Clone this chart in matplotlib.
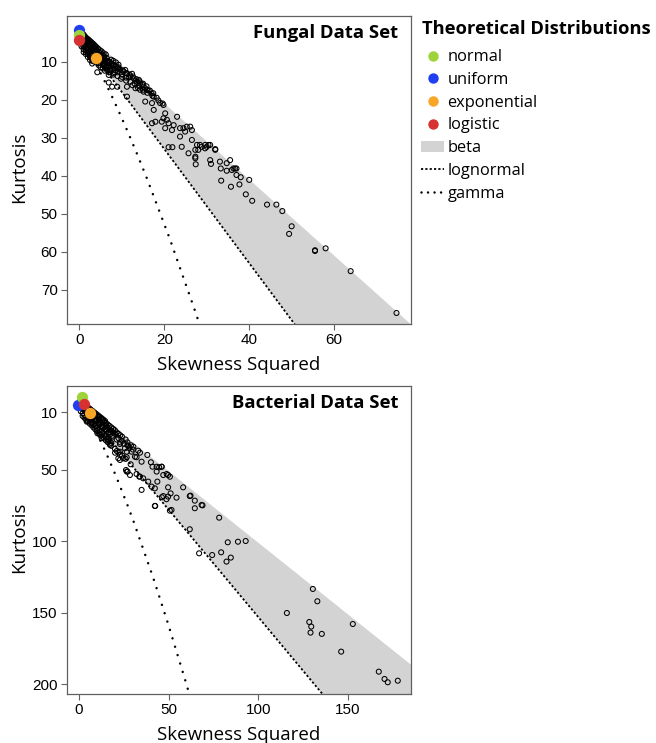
import matplotlib
matplotlib.use("Agg")
import matplotlib.pyplot as plt
from matplotlib.lines import Line2D
from matplotlib.patches import Patch

# ---- data (skewness squared, kurtosis) ----
fungal_s2 = [0.1, 0.2, 0.3, 0.4, 0.5, 0.6, 0.7, 0.8, 0.9, 1.0, 1.1, 1.2, 1.3, 1.4, 1.5, 1.6, 1.7, 1.8,
             1.9, 2.0, 2.1, 2.2, 2.3, 2.4, 2.5, 2.6, 2.7, 2.8, 2.9, 3.0, 3.1, 3.2, 3.3, 3.4, 3.5, 3.6,
             3.7, 3.8, 3.9, 4.0, 4.1, 4.3, 4.4, 4.5, 4.7, 4.8, 4.9, 5.1, 5.2, 5.4, 5.5, 5.7, 5.8, 6.0,
             6.2, 6.4, 6.6, 0.6, 1.0, 1.3, 0.3, 1.9, 2.4, 0.9,
             0.2, 0.5, 0.8, 1.1, 1.4, 1.7, 2.0, 2.3, 2.6, 2.9, 3.2, 3.5, 3.8, 4.1, 4.4,
             0.4, 0.7, 1.0, 1.5, 2.0, 2.5, 3.0, 3.5,
             0.5, 0.5, 1.0, 1.0, 1.5, 1.5, 2.0, 2.0, 2.5, 2.5, 3.0, 3.0, 5.0, 5.0, 5.5, 6.0, 6.0,
             6.5, 7.0, 7.0, 7.5, 8.0, 8.0, 4.6, 8.6, 9.2,
             5.0, 5.5, 6.0, 6.5, 7.0, 7.5, 8.0, 6.3, 7.3, 8.3, 5.6, 4.8, 7.8, 8.6, 9.4, 10.2,
             11.0, 11.8, 12.6, 13.4, 14.2, 15.0, 15.8, 16.6, 17.4, 18.2, 9.0, 10.0, 11.0, 12.0,
             13.0, 14.0, 15.0, 16.0, 17.2, 18.6, 19.6,
             5.3, 6.1, 6.9, 8.1, 8.9, 9.6, 10.4, 11.2, 12.0, 12.8, 13.6, 14.3, 15.1, 15.9,
             7.5, 8.5, 9.2, 10.0, 10.8, 11.6, 12.4, 13.2, 14.0, 14.8, 15.5, 16.3, 17.0, 7.2, 8.0,
             9.0, 6.5, 5.8, 9.8, 11.0, 12.5, 13.8,
             4.2, 6.9, 7.7, 8.9, 6.9, 11.2, 11.2, 15.5, 17.5, 17.1, 19.0, 19.8, 17.5, 20.2, 17.9,
             17.1, 23.0, 21.8, 23.7, 24.9, 26.5, 27.3, 29.6, 32.0, 21.0, 21.9, 24.1, 25.7, 27.3,
             30.8, 31.0, 13.2, 14.3, 15.1, 19.8, 20.6, 19.4, 21.0, 20.2, 22.2, 23.7, 24.5, 25.3,
             26.1, 26.5, 27.7, 28.8, 29.6, 30.0, 30.8, 28.0, 28.4, 30.4, 32.0, 33.1, 34.7, 35.5,
             36.3, 27.3, 27.4,
             33.3, 34.7, 35.9, 36.7, 37.0, 37.0, 38.0, 40.0, 33.4, 37.7, 35.7, 39.2, 40.7, 44.2,
             46.4, 47.8, 50.0, 49.4, 55.5, 55.5, 58.0, 63.9, 74.7]
fungal_k = [1.9, 2.3, 2.8, 2.1, 3.2, 2.6, 3.6, 3.0, 4.0, 2.9, 3.5, 4.3, 3.4, 3.9, 4.7, 3.8, 4.4, 5.1,
            4.0, 4.6, 5.4, 4.3, 5.0, 5.8, 4.6, 5.3, 6.1, 4.9, 5.6, 6.5, 5.2, 6.0, 6.9, 5.5, 6.3, 7.2,
            5.9, 6.7, 7.6, 6.2, 7.0, 7.9, 6.6, 7.4, 8.3, 7.0, 7.8, 8.6, 7.3, 8.2, 9.0, 7.8, 8.6, 9.4,
            8.1, 9.0, 9.8, 4.0, 4.6, 5.6, 3.6, 6.5, 7.1, 5.9,
            3.0, 3.9, 4.8, 5.3, 5.9, 6.3, 6.8, 7.4, 7.9, 8.3, 8.8, 9.1, 9.6, 10.0, 10.4,
            4.4, 5.2, 6.0, 6.6, 7.5, 8.4, 9.2, 10.0,
            5.0, 6.0, 6.8, 7.5, 7.2, 8.0, 8.0, 8.8, 8.8, 9.6, 9.8, 10.5, 10.5, 11.5, 11.8, 11.5,
            12.4, 12.2, 10.0, 12.8, 9.5, 9.8, 13.4, 11.0, 10.2, 10.8,
            9.3, 9.9, 10.5, 10.2, 11.3, 10.4, 11.8, 11.4, 12.3, 12.8, 11.0, 8.9, 10.9, 11.2, 11.9, 12.3,
            13.0, 13.4, 13.9, 14.6, 15.2, 15.8, 16.5, 17.6, 18.3, 19.5, 12.8, 14.0, 14.2, 15.3,
            15.8, 16.4, 17.4, 18.2, 19.0, 20.2, 21.0,
            9.6, 10.0, 10.4, 10.9, 11.7, 12.2, 12.6, 13.1, 13.9, 14.4, 15.3, 15.7, 16.6, 17.4,
            11.2, 12.3, 11.5, 13.4, 12.2, 14.2, 13.2, 15.0, 14.8, 16.0, 17.0, 17.6, 18.4, 12.0, 13.0,
            13.8, 11.0, 10.8, 14.5, 15.0, 16.2, 16.9,
            12.8, 13.5, 16.6, 16.6, 15.5, 19.2, 16.6, 20.5, 19.2, 20.9, 20.9, 21.4, 22.7, 23.6, 25.8,
            26.2, 24.5, 28.0, 29.7, 28.4, 30.6, 33.2, 31.9, 33.2, 32.5, 32.5, 32.4, 34.1, 35.4,
            35.9, 36.9, 17.0, 17.4, 17.9, 24.9, 25.3, 25.8, 26.2, 27.5, 26.7, 27.5, 27.5, 27.1,
            27.1, 28.0, 31.9, 32.4, 32.8, 32.4, 31.9, 33.2, 31.9, 31.9, 33.0, 36.3, 36.7, 35.9,
            38.1, 35.0, 37.0,
            38.1, 38.7, 38.5, 38.1, 38.1, 39.8, 40.4, 41.1, 41.3, 42.3, 42.9, 44.9, 46.6, 47.6,
            47.6, 49.3, 53.3, 55.3, 59.6, 59.8, 59.1, 65.1, 76.1]

bact_s2 = [0.5, 1, 1.5, 2, 2.5, 3, 3.5, 4, 4.5, 5, 5.5, 6, 6.5, 7, 7.5, 8, 8.5, 9, 9.5, 10, 10.5,
           11, 11.5, 12, 12.5, 13, 13.5, 14, 14.5, 15, 16, 17, 18, 19, 20, 21, 22, 23,
           2, 4, 6, 8, 10, 12, 14, 16, 18, 20, 3, 5, 7, 9, 11, 13, 15, 17, 19, 21, 23,
           1, 3, 5, 7, 9, 11, 13, 15, 17, 19, 22, 24, 25, 27, 28, 30, 24, 26, 27, 29,
           1, 2, 3, 4, 5, 6, 7, 8, 9, 10, 11, 12, 13, 14, 15, 16, 17, 18,
           1.5, 2.5, 3.5, 4.5, 5.5, 6.5, 7.5, 8.5, 9.5, 10.5, 11.5, 12.5, 13.5, 14.5, 15.5, 16.5,
           17.5, 18.5,
           2, 3, 4, 5, 6, 7, 8, 9, 10, 11, 12, 13, 14, 15, 16, 17, 18, 20, 21, 22, 24, 26,
           4.3, 7.1, 10.2, 12.6, 22.8, 26.6, 24.7, 22.8, 31.2, 26.6, 28.4, 34.0, 34.9, 20.1,
           22.8, 21.9, 25.6, 26.6, 28.8, 26.2, 27.1, 32.1, 33.6, 35.8, 38.6, 40.5, 42.3, 41.0,
           43.3, 44.7, 46.1, 48.9, 49.7, 51.1, 51.6, 42.3, 47.0, 49.7, 54.4, 58.1, 61.8, 64.6,
           68.4, 64.6, 61.8, 78.2, 29.3, 32.1, 34.0, 34.9, 38.1, 27.5, 30.3, 33.0, 22.8, 17.3,
           11.7, 40.1, 43.3, 46.1, 43.7, 47.0, 49.7, 50.7, 50.7, 46.2, 48.8, 42.5, 62.2, 68.9,
           67.0, 74.3, 79.3, 83.0, 88.7, 93.0, 82.3, 84.7, 116.0, 130.5, 133.0, 128.5, 129.6,
           129.2, 135.5, 152.8, 146.3, 167.3, 170.5, 172.3, 177.9]
bact_k = [2.5, 3.5, 3.0, 4.5, 4.0, 5.5, 5.0, 6.5, 6.0, 7.5, 7.0, 8.5, 8.0, 9.5, 9.0, 10.5, 10.0,
          11.5, 11.0, 12.5, 12.0, 13.5, 13.0, 14.5, 14.0, 15.5, 15.0, 16.5, 16.0, 17.5, 18.5,
          19.5, 20.5, 21.5, 22.5, 24, 25, 26,
          7, 9, 11, 13, 15, 17, 19, 21, 23, 25, 9, 11, 14, 16, 18, 20, 22, 24, 27, 29, 31,
          5, 7, 9, 11, 13, 15, 17, 19, 22, 24, 28, 30, 32, 33, 35, 36, 27, 29, 31, 33,
          9.3, 10.6, 11.9, 13.2, 14.5, 15.8, 17.1, 18.4, 19.7, 21.0, 22.3, 23.6, 24.9, 26.2,
          27.5, 28.8, 30.1, 31.4,
          6.8, 7.9, 9.1, 10.2, 11.4, 12.5, 13.7, 14.8, 16.0, 17.1, 18.3, 19.4, 20.6, 21.7,
          22.9, 24.0, 25.2, 26.3,
          12.5, 13.8, 15.2, 16.4, 17.9, 19.0, 20.5, 21.8, 23.0, 24.4, 25.6, 27.0, 28.2, 29.6,
          30.8, 32.0, 33.4, 35.5, 37.0, 38.0, 40.2, 42.5,
          16.5, 17.6, 24.6, 28.1, 37.5, 37.5, 42.1, 43.3, 41.0, 51.4, 53.8, 54.9, 64.2, 38.2,
          39.8, 42.1, 35.1, 41.4, 46.3, 50.3, 51.4, 53.1, 54.9, 56.1, 58.4, 61.9, 63.1, 48.0,
          51.4, 48.4, 48.0, 53.1, 62.4, 66.6, 78.2, 75.4, 68.5, 68.9, 69.6, 62.4, 68.5, 71.7,
          74.7, 77.0, 91.7, 83.6, 37.5, 41.4, 38.2, 44.5, 39.8, 33.5, 34.0, 36.8, 32.1, 32.8,
          25.8, 44.9, 48.0, 48.0, 58.4, 53.8, 53.8, 55.0, 78.7, 69.3, 70.7, 75.4, 68.2, 75.0,
          108.5, 109.7, 107.8, 100.8, 100.4, 99.9, 114.3, 111.5, 150.2, 133.4, 142.0, 156.5,
          159.7, 163.9, 164.8, 157.9, 177.2, 191.2, 196.3, 198.6, 197.5]

# theoretical distributions: colour and (s2, k) in each panel
dist_names = ["uniform", "normal", "logistic", "exponential"]
dist_colors = ["#1f3ff0", "#9fd33a", "#d63232", "#f9a526"]
fungal_dist_s2 = [0, 0, 0, 4]
fungal_dist_k = [1.8, 3, 4.2, 9]
bact_dist_s2 = [-0.4, 1.5, 2.8, 6.1]
bact_dist_k = [4.8, -0.5, 4.2, 10.7]

# beta region limits and the two theoretical lines
beta_s2 = [0, 250]
beta_k_top = [1, 251]
beta_k_bottom = [3, 378]
straight_s2 = [0, 250]
straight_k = [3, 378]
curve_s2 = [0, 0.96, 2.05, 3.27, 4.62, 6.13, 7.78, 9.58, 11.55, 13.69, 16.0, 21.17, 27.1,
            30.38, 41.47, 50.0, 59.49, 64.6]
curve_k = [3, 4.76, 6.85, 9.32, 12.21, 15.56, 19.43, 23.85, 28.88, 34.58, 41.0, 56.24, 75.1,
           86.06, 125.9, 159.0, 198.1, 220.1]

panels = [
    dict(title="Fungal Data Set", s2=fungal_s2, k=fungal_k, ds2=fungal_dist_s2, dk=fungal_dist_k,
         xlim=(-3, 78), ylim=(79, -2), xticks=[0, 20, 40, 60], yticks=[10, 20, 30, 40, 50, 60, 70],
         rect=[66.7 / 656, 1 - 324 / 743, 343.8 / 656, 308 / 743]),
    dict(title="Bacterial Data Set", s2=bact_s2, k=bact_k, ds2=bact_dist_s2, dk=bact_dist_k,
         xlim=(-6.9, 185), ylim=(206.8, -8.4), xticks=[0, 50, 100, 150], yticks=[10, 50, 100, 150, 200],
         rect=[66.7 / 656, 1 - 694 / 743, 343.8 / 656, 308 / 743]),
]

label_font = ["Open Sans", "DejaVu Sans"]
tick_font = ["Liberation Sans", "DejaVu Sans"]
plt.rcParams["font.family"] = tick_font
dense = (0, (1.2, 1.2))
sparse = (0, (0.01, 3.5))

fig = plt.figure(figsize=(6.56, 7.43), dpi=100)

for p in panels:
    ax = fig.add_axes(p["rect"])
    ax.fill_between(beta_s2, beta_k_top, beta_k_bottom, color="#d3d3d3", lw=0, zorder=1)
    ax.plot(straight_s2, straight_k, color="black", lw=1.3, linestyle=dense, zorder=2)
    ax.plot(curve_s2, curve_k, color="black", lw=1.8, linestyle=sparse,
            dash_capstyle="round", zorder=2)
    ax.scatter(p["s2"], p["k"], s=13, facecolors="none", edgecolors="black", linewidths=0.75, zorder=3)
    for col, x, y in zip(dist_colors, p["ds2"], p["dk"]):
        ax.scatter([x], [y], s=66, color=col, lw=0, zorder=4)
    ax.set_xlim(p["xlim"])
    ax.set_ylim(p["ylim"])
    ax.set_xticks(p["xticks"])
    ax.set_yticks(p["yticks"])
    for sp in ax.spines.values():
        sp.set_color("#606060")
        sp.set_linewidth(0.9)
    ax.tick_params(length=4.5, width=0.8, color="#606060", labelsize=11, pad=2)
    ax.set_xlabel("Skewness Squared", fontsize=13.5, family=label_font, labelpad=6.3)
    ax.set_ylabel("Kurtosis", fontsize=13.5, family=label_font)
    ax.yaxis.set_label_coords(-0.113, 0.51)
    ax.text(0.965, 0.975, p["title"], transform=ax.transAxes, ha="right", va="top",
            fontsize=13.3, fontweight="bold", family=label_font, zorder=5)

# legend on the right of the top panel (title written separately)
fig.text(422 / 656, 1 - 29 / 743, "Theoretical Distributions", ha="left", va="center",
         fontsize=13.2, fontweight="bold", family=label_font)
handles = [Line2D([], [], marker="o", ls="none", color=c, markersize=7.5, markeredgewidth=0)
           for c in [dist_colors[1], dist_colors[0], dist_colors[3], dist_colors[2]]]
handles.append(Patch(facecolor="#d3d3d3", edgecolor="none"))
handles.append(Line2D([], [], color="black", lw=1.3, linestyle=dense))
handles.append(Line2D([], [], color="black", lw=1.8, linestyle=(0, (0.01, 2.6)),
                      dash_capstyle="round"))
labels = ["normal", "uniform", "exponential", "logistic", "beta", "lognormal", "gamma"]
leg = fig.legend(handles, labels, loc="upper left", bbox_to_anchor=(418 / 656, 1 - 46 / 743),
                 frameon=False, prop={"family": label_font, "size": 11.8},
                 handlelength=1.4, handletextpad=0.2, labelspacing=0.41, borderaxespad=0,
                 borderpad=0.2)

fig.savefig("out.png", dpi=100)
